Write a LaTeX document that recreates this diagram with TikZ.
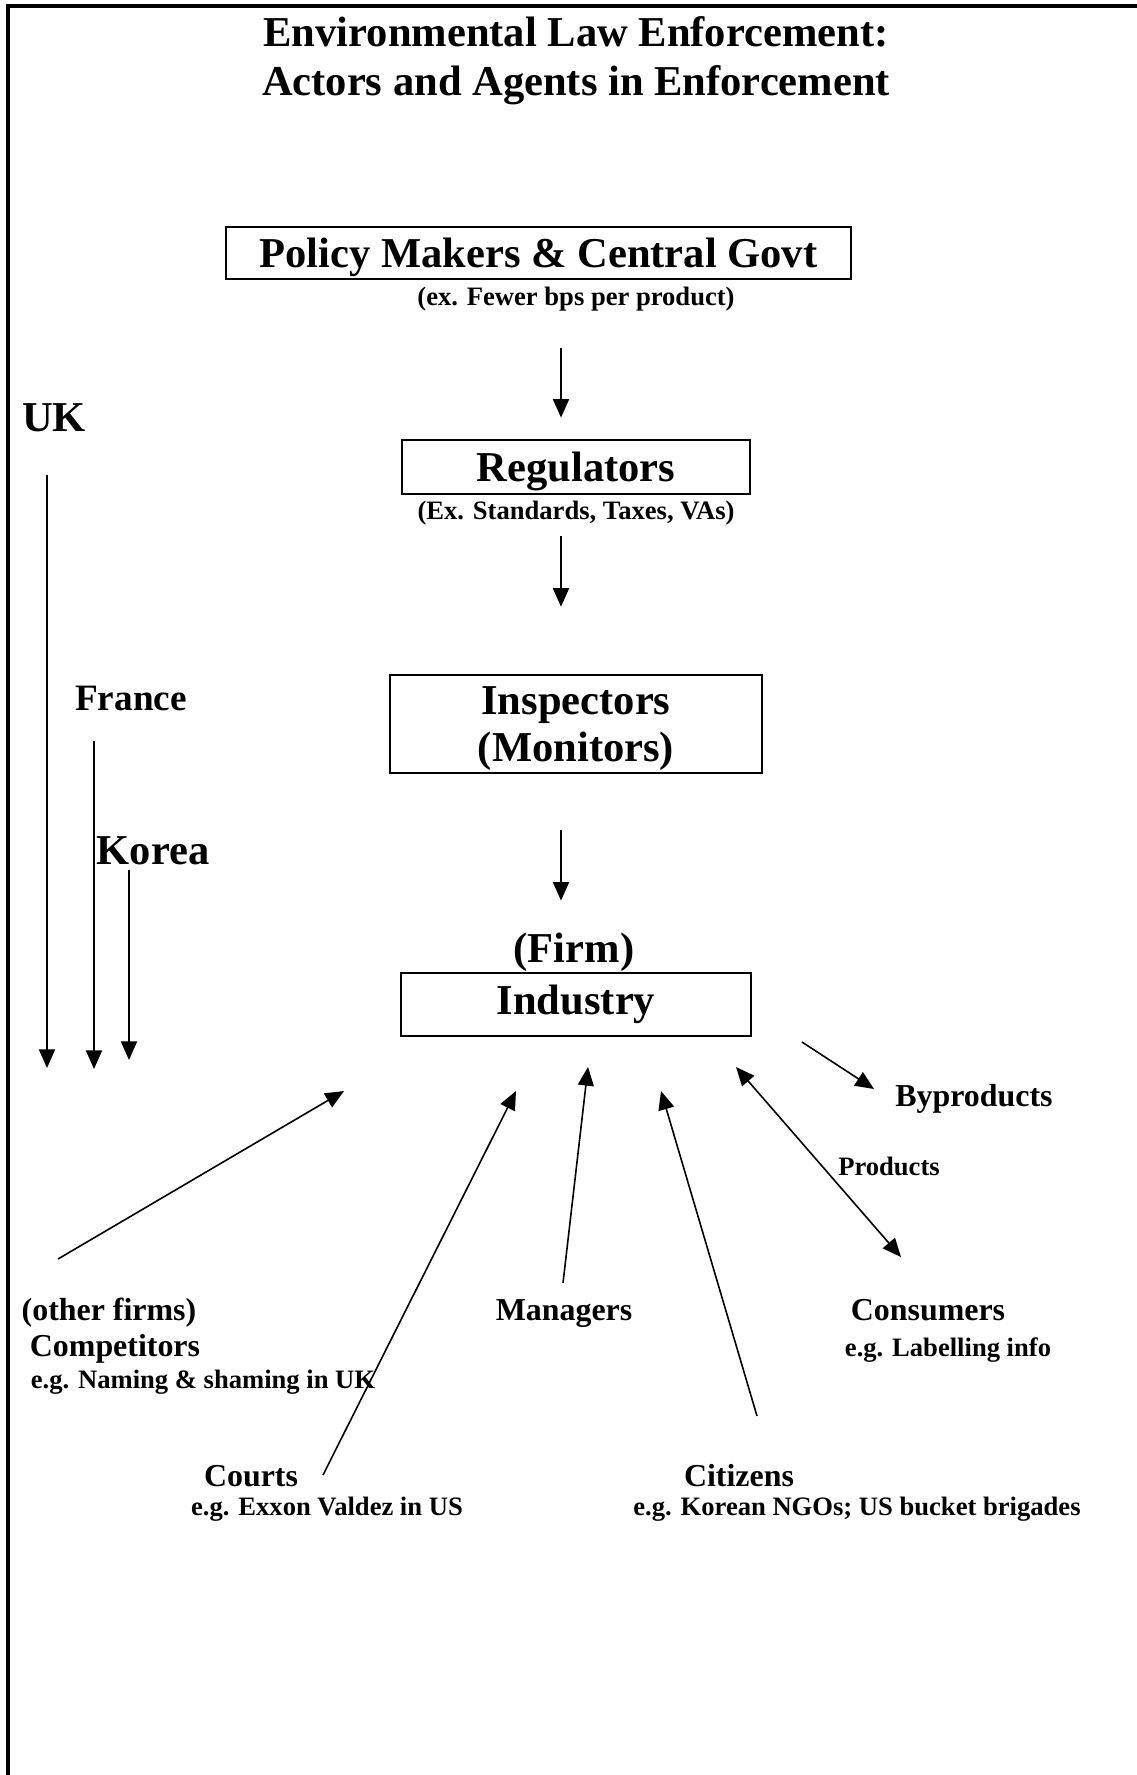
\documentclass[tikz,border=0pt]{standalone}
\usepackage{fontspec}
\setmainfont{Liberation Serif}
\usetikzlibrary{shapes}
\usetikzlibrary{arrows.meta}
\usetikzlibrary{positioning}
\usetikzlibrary{calc}

\begin{document}
\begin{tikzpicture}[x=0.376pt,y=-0.376pt]
\tikzstyle{acteur}=[
        rectangle,
        draw,
        line width=1pt,
        inner sep=0pt,
        align=center,
        font=\fontsize{16}{17.7}\selectfont\bfseries
]
\tikzstyle{titre}=[align=center,inner sep=0pt,font=\fontsize{16}{18.4}\selectfont\bfseries]
\tikzstyle{grand}=[inner sep=0pt,font=\fontsize{16}{18}\selectfont\bfseries]
\tikzstyle{pays}=[inner sep=0pt,font=\fontsize{14}{16}\selectfont\bfseries]
\tikzstyle{agent}=[inner sep=0pt,font=\fontsize{12}{14}\selectfont\bfseries]
\tikzstyle{exemple}=[inner sep=0pt,font=\fontsize{10}{12}\selectfont\bfseries]
%styledesflèches
\tikzstyle{suite}=[-{Triangle[length=7pt,width=6pt]},line width=0.8pt]
\tikzstyle{fleche}=[-{Triangle[length=7pt,width=6pt]},line width=0.6pt]
\tikzstyle{double}=[{Triangle[length=7pt,width=6pt]}-{Triangle[length=7pt,width=6pt]},line width=0.6pt]
\useasboundingbox (0,0) rectangle (1136,1775);
%cadre
\draw[line width=1.4pt] (1140,6) -- (8,6) -- (8,1780);
%placementdesnœuds
\node[titre] (titre) at (576,61) {Environmental Law Enforcement:\\Actors and Agents in Enforcement};
\node[acteur,minimum width=235pt,minimum height=19.6pt,text depth=0pt] (policy) at (538.5,253) {Policy Makers \& Central Govt};
\node[exemple] (expolicy) at (576,299) {(ex. Fewer bps per product)};
\node[acteur,minimum width=130.8pt,minimum height=20.3pt,text depth=0pt] (regul) at (576,467) {Regulators};
\node[exemple] (exregul) at (576,513) {(Ex. Standards, Taxes, VAs)};
\node[acteur,minimum width=139.9pt,minimum height=36.8pt,text depth=0pt] (insp) at (576,724) {Inspectors\\(Monitors)};
\node[grand] (firm) at (574,952) {(Firm)};
\node[acteur,minimum width=131.6pt,minimum height=23.7pt] (industry) at (576,1004.5) {Industry};
\node[grand] (uk) at (54,418) {UK};
\node[pays] (france) at (131,698) {France};
\node[grand] (korea) at (153,851) {Korea};
\node[agent] (byprod) at (974,1099) {Byproducts};
\node[exemple] (prod) at (889,1166) {Products};
\node[agent] (autres) at (109,1313) {(other firms)};
\node[agent] (compet) at (115,1349) {Competitors};
\node[exemple] (excompet) at (203,1382) {e.g. Naming \& shaming in UK};
\node[agent] (managers) at (564,1314) {Managers};
\node[agent] (consum) at (928,1310) {Consumers};
\node[exemple] (exconsum) at (948,1350) {e.g. Labelling info};
\node[agent] (courts) at (251,1476) {Courts};
\node[exemple] (excourts) at (327,1509) {e.g. Exxon Valdez in US};
\node[agent] (citizens) at (739,1476) {Citizens};
\node[exemple] (excitizens) at (857,1509) {e.g. Korean NGOs; US bucket brigades};
%extrémitésdesflèches
\coordinate (ukbas) at (47,1068);
\coordinate (frbas) at (94,1069);
\coordinate (kobas) at (129,1060);
\coordinate (compA) at (58,1259);
\coordinate (compB) at (344,1091);
\coordinate (courA) at (323,1475);
\coordinate (courB) at (516,1091);
\coordinate (manA) at (563,1283);
\coordinate (manB) at (588,1067);
\coordinate (citA) at (757,1416);
\coordinate (citB) at (661,1091);
\coordinate (consA) at (736,1067);
\coordinate (consB) at (901,1257);
\coordinate (byA) at (802,1042);
\coordinate (byB) at (874,1089);
%placementdesflèches
\draw[suite] ($(policy.south -| regul.north)+(-15,68)$) -- ($(regul.north)+(-15,-21)$);
\draw[suite] ($(regul.south)+(-15,41)$) -- ($(insp.north)+(-15,-67)$);
\draw[suite] ($(insp.south)+(-15,56)$) -- ($(industry.north)+(-15,-71)$);
\draw[suite] ($(uk.south -| ukbas)+(0,42)$) -- (ukbas);
\draw[suite] ($(france.south -| frbas)+(0,30)$) -- (frbas);
\draw[suite] ($(korea.south -| kobas)+(0,4)$) -- (kobas);
\draw[fleche] (compA) -- (compB);
\draw[fleche] (courA) -- (courB);
\draw[fleche] (manA) -- (manB);
\draw[fleche] (citA) -- (citB);
\draw[double] (consA) -- (consB);
\draw[fleche] (byA) -- (byB);
\end{tikzpicture}
\end{document}
